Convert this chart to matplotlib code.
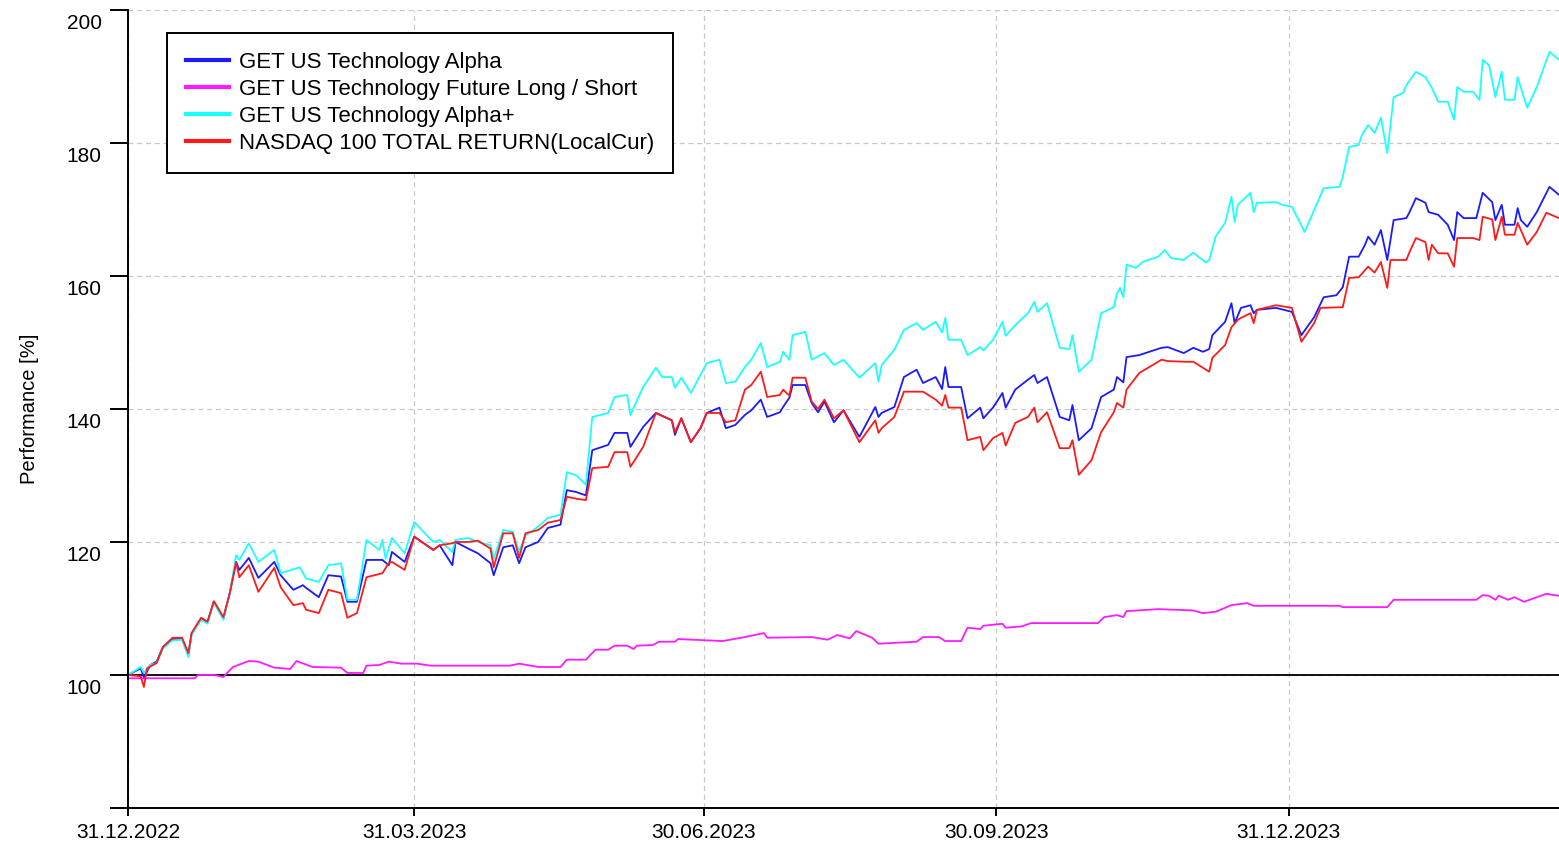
import numpy as np
import matplotlib
matplotlib.use("Agg")
import matplotlib.pyplot as plt
import matplotlib.dates as mdates
import matplotlib.transforms as mtransforms

plt.rcParams["font.family"] = ["Liberation Sans", "DejaVu Sans"]

start = np.datetime64("2022-12-31")

# Tage seit 31.12.2022 und Werte (Basis 100)
alpha_days = [0, 4, 5, 7, 9, 11, 14, 17, 19, 20, 23, 25, 27, 30, 32, 34, 35, 38, 41, 46,
              48, 52, 55, 56, 60, 63, 67, 69, 72, 75, 80, 82, 83, 87, 90, 96, 98, 102, 103, 107,
              110, 114, 115, 118, 121, 123, 125, 129, 132, 136, 138, 141, 144, 146, 151, 153, 157, 158, 162, 166,
              171, 172, 174, 177, 180, 182, 186, 188, 191, 194, 196, 199, 201, 205, 206, 208, 209, 213, 215, 217,
              219, 222, 225, 230, 235, 236, 237, 241, 244, 248, 250, 254, 256, 257, 258, 262, 264, 268, 269, 272,
              275, 276, 279, 283, 285, 286, 289, 293, 296, 297, 299, 303, 306, 310, 311, 313, 314, 318, 325, 327,
              332, 335, 338, 340, 341, 345, 347, 348, 350, 353, 354, 355, 361, 366, 369, 373, 376, 380, 382, 384,
              387, 389, 390, 392, 394, 396, 398, 402, 403, 405, 408, 409, 412, 415, 417, 418, 420, 424, 426, 429,
              430, 432, 433, 436, 437, 438, 440, 443, 447, 450]
alpha = [100, 101, 99.6, 101.5, 102, 104.2, 105.4, 105.4, 103, 106.2, 108.5, 108, 111, 108.5, 112.3, 117, 115.8, 117.6, 114.6, 117,
         115, 112.8, 113.5, 113.1, 111.7, 115, 114.8, 111, 111, 117.3, 117.3, 116.5, 118.5, 117, 120.8, 118.8, 119.5, 116.5, 120, 119,
         118.3, 116.8, 115, 119.2, 119.5, 116.8, 119.2, 120, 122.1, 122.6, 127.8, 127.5, 127, 133.8, 134.6, 136.4, 136.4, 134.3, 137.3, 139.4,
         138.3, 136.1, 138.6, 135, 137.1, 139.4, 140.2, 137.1, 137.6, 139.1, 139.8, 141.4, 138.8, 139.5, 140.3, 141.7, 143.6, 143.6, 140.9, 139.5,
         141.1, 138, 139.8, 135.8, 140.3, 138.8, 139.4, 140.3, 144.8, 145.9, 143.9, 144.8, 143, 146.3, 143.3, 143.3, 138.6, 140.2, 138.6, 140.2,
         142.4, 140.2, 142.9, 144.4, 145.1, 143.9, 144.8, 138.8, 138.3, 140.6, 135.3, 137.1, 141.8, 142.9, 144.8, 144, 147.8, 148.1, 149.2, 149.3,
         148.4, 149.2, 148.6, 149, 151.1, 153.1, 155.9, 152.9, 155.2, 155.6, 154.4, 154.9, 155.2, 154.6, 151.1, 153.8, 156.8, 157.1, 158.3, 162.9,
         162.9, 164.7, 165.9, 164.7, 166.9, 162.4, 168.4, 168.7, 169.6, 171.7, 171, 169.6, 169.2, 167.7, 165.4, 169.6, 168.7, 168.7, 172.5, 171.1,
         168.4, 170.7, 167.7, 167.7, 170.2, 168.4, 167.4, 169.6, 173.4, 172.2]

future_ls_days = [0, 21, 22, 27, 30, 33, 38, 41, 46, 51, 53, 58, 67, 69, 74, 75, 79, 82, 86, 91,
                  95, 120, 123, 129, 136, 138, 144, 147, 151, 153, 157, 159, 160, 165, 167, 172, 173, 187, 194, 200,
                  201, 215, 220, 223, 227, 229, 234, 236, 248, 250, 255, 257, 262, 264, 268, 269, 275, 276, 281, 284,
                  305, 307, 311, 313, 314, 324, 335, 338, 342, 347, 352, 354, 381, 382, 396, 398, 424, 426, 428, 430,
                  431, 434, 436, 439, 446, 450]
future_ls = [99.5, 99.5, 100, 100, 99.7, 101.2, 102.1, 102, 101.1, 100.9, 102.1, 101.2, 101.1, 100.3, 100.3, 101.4, 101.5, 102, 101.7, 101.7,
             101.4, 101.4, 101.7, 101.2, 101.2, 102.3, 102.3, 103.8, 103.8, 104.4, 104.4, 103.9, 104.4, 104.5, 105, 105, 105.4, 105.1, 105.7, 106.3,
             105.6, 105.7, 105.3, 106, 105.5, 106.6, 105.6, 104.7, 105, 105.7, 105.7, 105.1, 105.1, 107.1, 106.9, 107.4, 107.7, 107.1, 107.3, 107.8,
             107.8, 108.7, 109, 108.7, 109.6, 109.9, 109.7, 109.3, 109.5, 110.5, 110.8, 110.4, 110.4, 110.2, 110.2, 111.3, 111.3, 112, 111.9, 111.3,
             111.9, 111.3, 111.7, 111, 112.2, 111.9]

alpha_plus_days = [0, 4, 5, 7, 9, 11, 14, 17, 19, 20, 23, 25, 27, 30, 32, 34, 35, 38, 41, 46,
                   48, 54, 56, 60, 63, 67, 69, 72, 75, 79, 80, 81, 83, 87, 90, 96, 98, 102, 103, 107,
                   110, 114, 115, 118, 121, 123, 125, 129, 132, 136, 138, 141, 144, 146, 151, 153, 157, 158, 162, 166,
                   168, 171, 172, 174, 177, 180, 182, 186, 188, 191, 194, 196, 199, 201, 205, 206, 208, 209, 213, 215,
                   219, 222, 225, 230, 235, 236, 237, 241, 244, 248, 250, 254, 256, 257, 258, 262, 264, 268, 269, 272,
                   275, 276, 279, 283, 285, 286, 289, 293, 296, 297, 299, 303, 306, 310, 311, 312, 313, 314, 317, 319,
                   324, 326, 328, 332, 335, 339, 340, 342, 345, 347, 348, 349, 353, 354, 355, 361, 363, 366, 370, 376,
                   381, 382, 384, 387, 388, 390, 392, 394, 396, 398, 401, 402, 405, 408, 410, 412, 415, 417, 418, 420,
                   423, 425, 426, 428, 430, 432, 433, 436, 437, 438, 440, 443, 447, 450]
alpha_plus = [100, 101.2, 100.3, 101.5, 101.8, 104, 105.2, 105.3, 102.7, 106, 108.3, 107.7, 110.9, 108.3, 112.3, 118, 117.3, 119.8, 117, 118.8,
              115.3, 116.2, 114.5, 114, 116.5, 116.8, 111.3, 111.3, 120.3, 118.8, 120.3, 117.5, 120.6, 118.3, 123, 120, 120.3, 118.5, 120.3, 120.6,
              120, 119.5, 117.5, 121.8, 121.5, 118.5, 121, 122.3, 123.6, 124.1, 130.5, 130, 128.6, 138.8, 139.4, 141.8, 142.1, 139.1, 143.3, 146.2,
              144.8, 144.8, 143.2, 144.7, 142.4, 145.1, 146.9, 147.4, 143.9, 144.1, 146.3, 147.4, 149.9, 146.3, 147.1, 148.6, 147.4, 151.1, 151.6, 147.4,
              148.4, 146.6, 147.4, 144.7, 146.9, 144.1, 146.6, 148.9, 151.9, 152.9, 151.9, 153.1, 151.5, 153.7, 150.4, 150.4, 148.1, 149.3, 148.8, 150.4,
              153.1, 151, 152.6, 154.4, 156.1, 154.6, 155.9, 149.2, 149, 151.1, 145.6, 147.4, 154.4, 155.3, 157.4, 158.2, 156.8, 161.7, 161.2, 162.1,
              162.9, 163.9, 162.7, 162.4, 163.5, 162, 162.4, 165.9, 168, 171.9, 168.1, 170.7, 172.5, 169.6, 171, 171.1, 170.7, 170.4, 166.6, 173.2,
              173.4, 174.9, 179.4, 179.7, 181.2, 182.7, 181.5, 183.8, 178.5, 186.9, 187.5, 188.7, 190.7, 189.9, 188.3, 186.2, 186.2, 183.5, 188.4, 187.7,
              187.7, 186.5, 192.5, 191.7, 186.9, 190.7, 186.5, 186.5, 189.9, 188.3, 185.3, 188.4, 193.7, 192.5]

nasdaq_days = [0, 4, 5, 6, 9, 11, 14, 17, 19, 20, 23, 25, 27, 30, 32, 34, 35, 38, 41, 46,
               48, 52, 55, 56, 60, 63, 67, 69, 72, 75, 80, 82, 83, 87, 90, 96, 98, 102, 103, 107,
               110, 114, 115, 118, 121, 123, 125, 129, 132, 136, 138, 141, 144, 146, 151, 153, 157, 158, 162, 166,
               171, 172, 174, 177, 180, 182, 186, 188, 191, 194, 196, 199, 201, 205, 206, 208, 209, 213, 215, 217,
               219, 222, 225, 230, 235, 236, 237, 241, 244, 248, 250, 254, 256, 257, 258, 262, 264, 268, 269, 272,
               275, 276, 279, 283, 285, 286, 289, 293, 296, 297, 299, 303, 306, 310, 311, 313, 314, 318, 325, 327,
               332, 335, 338, 340, 341, 345, 347, 349, 350, 353, 354, 355, 361, 366, 369, 373, 375, 382, 384, 387,
               390, 392, 394, 396, 397, 402, 403, 405, 408, 409, 410, 412, 415, 417, 418, 423, 425, 426, 429, 430,
               432, 433, 436, 437, 440, 443, 446, 450]
nasdaq = [100, 99.8, 98.2, 101, 101.8, 104.2, 105.6, 105.6, 103.3, 106.3, 108.6, 108, 111.1, 108.7, 112.3, 117, 114.7, 116.5, 112.5, 116.1,
          113.2, 110.5, 110.8, 109.8, 109.3, 112.8, 112.3, 108.6, 109.3, 114.7, 115.3, 116.8, 117, 115.8, 120.8, 118.8, 119.5, 119.8, 120, 120,
          120.2, 119, 116.2, 121.3, 121.3, 117.6, 121.3, 121.8, 122.9, 123.3, 126.8, 126.5, 126.3, 131.1, 131.3, 133.5, 133.5, 131.3, 134.3, 139.4,
          138.3, 136.5, 138.6, 135, 137.1, 139.4, 139.4, 138, 138.3, 142.9, 143.6, 145.6, 141.8, 142.1, 142.9, 142, 144.7, 144.7, 141.1, 140,
          141.4, 138.6, 139.8, 135, 138.3, 136.4, 137.1, 138.8, 142.6, 142.6, 142.6, 141.4, 140.5, 142.1, 140.2, 140.2, 135.3, 135.8, 133.8, 135.6,
          136.4, 134.5, 137.9, 138.8, 140.2, 138, 139.5, 134.1, 134.1, 135.3, 130.1, 132.3, 136.5, 139.5, 140.9, 140.2, 142.9, 145.4, 147.4, 147.2,
          147.1, 147.1, 146.2, 145.6, 147.7, 149.6, 152.3, 153.4, 153.7, 154.4, 152.9, 154.9, 155.6, 155.2, 150.1, 152.9, 155.2, 155.3, 159.7, 159.8,
          161.4, 160.5, 162.1, 158.2, 162.4, 162.4, 163.6, 165.7, 165.1, 162.4, 164.7, 163.4, 163.4, 161.4, 165.7, 165.7, 165.4, 168.9, 168.5, 165.4,
          168.9, 166.2, 166.2, 168, 164.7, 166.6, 169.5, 168.7]

series_names = ["GET US Technology Alpha", "GET US Technology Future Long / Short",
                "GET US Technology Alpha+", "NASDAQ 100 TOTAL RETURN(LocalCur)"]
series_colors = ["#1a1aff", "#ff1aff", "#1affff", "#ff1a1a"]
series = [(alpha_days, alpha), (future_ls_days, future_ls),
          (alpha_plus_days, alpha_plus), (nasdaq_days, nasdaq)]

tick_dates = ["2022-12-31", "2023-03-31", "2023-06-30", "2023-09-30", "2023-12-31"]
y_ticks = [80, 100, 120, 140, 160, 180, 200]
y_labels = ["", "100", "120", "140", "160", "180", "200"]


def to_dates(days):
    return start + np.array(days).astype("timedelta64[D]")


fig = plt.figure(figsize=(15.59, 8.44), dpi=100)
ax = fig.add_axes([0.0821, 0.0427, 0.9179, 0.9455])

for (d, v), name, col in zip(series, series_names, series_colors):
    ax.plot(to_dates(d), v, color=col, lw=1.3, label=name)

ax.axhline(100, color="black", lw=1.3, zorder=1)

ax.set_xlim(start, start + np.timedelta64(450, "D"))
ax.set_ylim(80, 200)
ax.set_yticks(y_ticks)
ax.set_yticklabels(y_labels)
ax.set_xticks([np.datetime64(t) for t in tick_dates])
ax.xaxis.set_major_formatter(mdates.DateFormatter("%d.%m.%Y"))

ax.grid(True, color="#c8c8c8", ls=(0, (4, 3)), lw=0.9)
ax.set_axisbelow(True)
for s in ["top", "right"]:
    ax.spines[s].set_visible(False)
ax.spines["left"].set_linewidth(1.4)
ax.spines["bottom"].set_linewidth(1.4)
ax.tick_params(axis="y", length=13, width=1.4, labelsize=15, pad=6)
ax.tick_params(axis="x", length=6, width=1.4, labelsize=15, pad=5)

# Beschriftung der y-Achse etwas unterhalb der Striche, wie im Original
shift = mtransforms.ScaledTranslation(0, -0.12, fig.dpi_scale_trans)
for lbl in ax.get_yticklabels():
    lbl.set_transform(lbl.get_transform() + shift)

ax.set_ylabel("Performance [%]", fontsize=14.5, labelpad=20)

leg = ax.legend(loc="upper left", bbox_to_anchor=(0.0273, 0.971), borderaxespad=0,
                fontsize=16, frameon=True, fancybox=False, framealpha=1,
                edgecolor="black", handlelength=1.95, handletextpad=0.45,
                labelspacing=0.27, borderpad=0.85)
leg.get_frame().set_linewidth(1.4)
for line in leg.get_lines():
    line.set_linewidth(3)

plt.savefig("out.png", dpi=100)
